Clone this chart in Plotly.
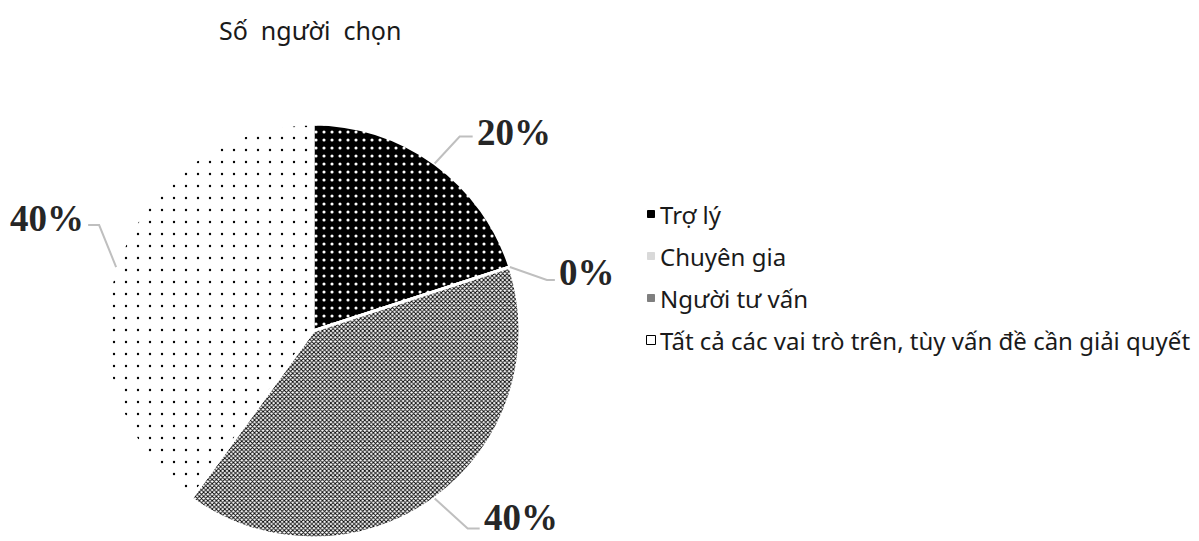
import math
import plotly.graph_objects as go

# ---- data ----
categories = ["Trợ lý", "Chuyên gia", "Người tư vấn", "Tất cả các vai trò trên, tùy vấn đề cần giải quyết"]
values = [1, 0, 2, 2]
title_text = "Số người chọn"

# ---- styling ----
W, H = 1199, 541
CX, CY, R = 313, 331, 207
LABEL_FONT = dict(family="Liberation Serif", size=37, color="#262626")
LEG_FONT = dict(family="Noto Sans", size=24, color="#1a1a1a")
LEADER_COLOR = "#BFBFBF"
# (elbow dx, elbow dy, horizontal length, text dy)
LEADER_STYLE = [(25, -27, 13, -4), (37, 13, 8, -8), (33, 30, 12, -11), (-17, -42, -11, -7)]
PATTERN_SHAPES = [".", "", "x", "."]
PATTERN_BG = ["#000000", "#D9D9D9", "#FFFFFF", "#FFFFFF"]
PATTERN_FG = ["#FFFFFF", "#D9D9D9", "#000000", "#000000"]
PATTERN_SIZE = [8, 8, 3, 12]
PATTERN_SOL = [0.12, 0.3, 0.5, 0.03]
LEG_SWATCH = ["#000000", "#D9D9D9", "#7F7F7F", "#FFFFFF"]
LEG_Y = [214, 256, 298, 340]


def px(x):
    return x / W


def py(y):
    return 1 - y / H


fig = go.Figure()
fig.add_trace(go.Pie(
    labels=categories,
    values=values,
    sort=False,
    direction="clockwise",
    rotation=0,
    textinfo="none",
    hoverinfo="label+percent",
    domain=dict(x=[px(CX - R), px(CX + R)], y=[py(CY + R), py(CY - R)]),
    marker=dict(
        colors=PATTERN_BG,
        line=dict(color="#FFFFFF", width=3),
        pattern=dict(shape=PATTERN_SHAPES, bgcolor=PATTERN_BG, fgcolor=PATTERN_FG,
                     size=PATTERN_SIZE, solidity=PATTERN_SOL, fillmode="replace"),
    ),
    showlegend=False,
))

shapes = []
annotations = []
total = sum(values)
cum = 0.0
for i, v in enumerate(values):
    mid = (cum + v / 2) / total * 2 * math.pi
    cum += v
    ex = CX + R * math.sin(mid)
    ey = CY - R * math.cos(mid)
    dx1, dy1, dh, tdy = LEADER_STYLE[i]
    bx, by = ex + dx1, ey + dy1
    hx = bx + dh
    shapes.append(dict(type="path", xref="paper", yref="paper",
                       path=f"M {px(ex)} {py(ey)} L {px(bx)} {py(by)} L {px(hx)} {py(by)}",
                       line=dict(color=LEADER_COLOR, width=2)))
    pct = f"{round(v / total * 100)}%"
    annotations.append(dict(x=px(hx + (2 if dh > 0 else -2)), y=py(by + tdy), xref="paper", yref="paper",
                            text=f"<b>{pct}</b>", showarrow=False,
                            xanchor="left" if dh > 0 else "right", yanchor="middle",
                            font=LABEL_FONT))

# custom legend
for i, name in enumerate(categories):
    yc = LEG_Y[i]
    s = 3.5 if i < 3 else 4.5
    xc = 651
    shapes.append(dict(type="rect", xref="paper", yref="paper",
                       x0=px(xc - s), x1=px(xc + s), y0=py(yc + s), y1=py(yc - s),
                       fillcolor=LEG_SWATCH[i],
                       line=dict(color="#000000" if i in (0, 3) else LEG_SWATCH[i], width=1)))
    annotations.append(dict(x=px(xc + 7), y=py(yc), xref="paper", yref="paper", text=name,
                            showarrow=False, xanchor="left", yanchor="middle", font=LEG_FONT))

annotations.append(dict(x=px(310), y=py(30), xref="paper", yref="paper",
                        text=title_text.replace(" ", "\u00a0 "), showarrow=False,
                        xanchor="center", yanchor="middle",
                        font=dict(family="Noto Sans", size=25, color="#1a1a1a")))

fig.update_layout(width=W, height=H, margin=dict(l=0, r=0, t=0, b=0),
                  paper_bgcolor="white", plot_bgcolor="white",
                  shapes=shapes, annotations=annotations)

fig.write_html("out.html", config={"displayModeBar": False},
               post_script="document.body.style.margin='0';")
